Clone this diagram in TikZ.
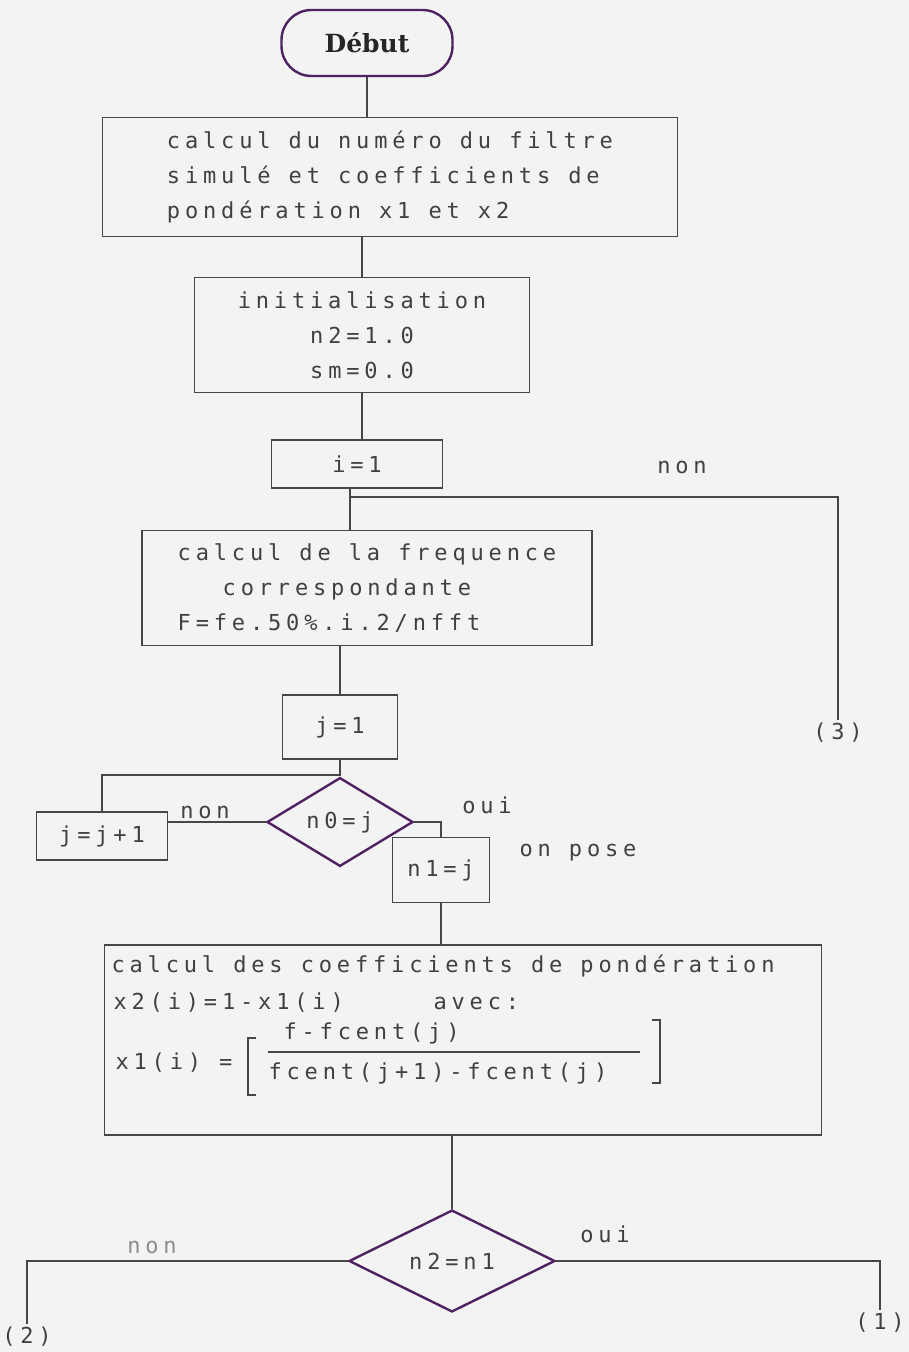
\documentclass[tikz,border=0pt]{standalone}
\usepackage{fontspec}
\usetikzlibrary{shapes.geometric}

\newfontfamily\dotfont{DejaVu Sans Mono}[LetterSpace=22]
\newfontfamily\titlefont{DejaVu Serif}

\definecolor{inkpurple}{RGB}{78,34,96}
\definecolor{paper}{RGB}{243,243,243}
\definecolor{penline}{RGB}{70,70,70}

\tikzset{
  every node/.style={font={\dotfont\fontsize{22}{35}\selectfont}, text=black!75},
  box/.style={draw=penline, line width=1.1pt, rectangle, inner sep=0pt},
  decision/.style={draw=inkpurple, line width=2.4pt, diamond, inner sep=0pt},
  connector/.style={draw=penline, line width=1.1pt},
}

\begin{document}
\begin{tikzpicture}[x=1pt,y=1pt,yscale=-1,xscale=1]
\useasboundingbox (0,0) rectangle (909,1352);
\fill [paper] (0,0) rectangle (909,1352);

%Shape: Terminal [debut]
\node [draw=inkpurple, line width=2.4pt, rounded corners=30pt, minimum width=171pt, minimum height=66pt,
  font={\titlefont\bfseries\fontsize{25}{30}\selectfont}, text=black!85] (debut) at (367,43) {Début};
%Shape: Rectangle [calc]
\node [box, minimum width=575pt, minimum height=119pt, align=left] (calc) at (390,177)
  {calcul du numéro du filtre\\simulé et coefficients de\\pondération x1 et x2};
%Shape: Rectangle [init]
\node [box, minimum width=335pt, minimum height=115pt, align=center] (init) at (362,335)
  {initialisation\\n2=1.0\\sm=0.0};
%Shape: Rectangle [iinit]
\node [box, minimum width=171pt, minimum height=48pt] (iinit) at (357,464) {i=1};
%Shape: Rectangle [freq]
\node [box, minimum width=450pt, minimum height=115pt, align=left] (freq) at (367,588)
  {calcul de la frequence\\\hspace*{45pt}correspondante\\F=fe.50\%.i.2/nfft};
%Shape: Rectangle [jinit]
\node [box, minimum width=115pt, minimum height=64pt] (jinit) at (340,727) {j=1};
%Shape: Diamond [nzero]
\node [decision, minimum width=146pt, minimum height=50pt] (nzero) at (340,822) {n0=j};
%Shape: Rectangle [jinc]
\node [box, minimum width=131pt, minimum height=48pt] (jinc) at (102,836) {j=j+1};
%Shape: Rectangle [nset]
\node [box, minimum width=97pt, minimum height=65pt] (nset) at (441,870) {n1=j};
%Shape: Rectangle [coef]
\node [box, minimum width=717pt, minimum height=190pt] (coef) at (463,1040) {};
%Shape: Diamond [ntwo]
\node [decision, minimum width=206pt, minimum height=75pt] (ntwo) at (452,1261) {n2=n1};

% Text Node
\node [anchor=west] (coefa) at (108,966) {calcul des coefficients de pondération};
\node [anchor=west] (coefb) at (110,1003) {x2(i)=1-x1(i)};
\node [anchor=west] (avec) at (430,1003) {avec:};
\node [anchor=west] (xone) at (112,1063) {x1(i) =};
\node [anchor=west] (numer) at (280,1033) {f-fcent(j)};
\node [anchor=west] (denom) at (265,1073) {fcent(j+1)-fcent(j)};
%Straight Lines [fraction and brackets]
\draw [connector] (268,1052) -- (640,1052);
\draw [connector] (256,1038) -- (248,1038) -- (248,1095) -- (256,1095);
\draw [connector] (652,1020) -- (660,1020) -- (660,1083) -- (652,1083);

% Text Node
\node (lbl3) at (838,733) {(3)};
\node (lbl1) at (880,1323) {(1)};
\node (lbl2) at (27,1337) {(2)};
\node (nonA) at (682,467) {non};
\node (nonB) at (205,812) {non};
\node (ouiA) at (487,805) {oui};
\node (pose) at (578,853) {on pose};
\node [text=black!45] (nonC) at (152,1247) {non};
\node (ouiB) at (605,1234) {oui};

%Straight Lines [junctions]
\coordinate (jun3) at (350,497);
\coordinate (jun7) at (340,775);

%Straight Lines
\draw [connector] (debut.south) -- (debut.south |- calc.north);
\draw [connector] (init.north |- calc.south) -- (init.north);
\draw [connector] (init.south) -- (init.south |- iinit.north);
\draw [connector] (jun3 |- iinit.south) -- (jun3 |- freq.north);
\draw [connector] (jun3) -| (lbl3.north);
\draw [connector] (jinit.north |- freq.south) -- (jinit.north);
\draw [connector] (jinit.south) -- (nzero.north);
\draw [connector] (jun7) -| (jinc.north);
\draw [connector] (jinc.east |- nzero.west) -- (nzero.west);
\draw [connector] (nzero.east) -| (nset.north);
\draw [connector] (nset.south) -- (nset.south |- coef.north);
\draw [connector] (ntwo.north |- coef.south) -- (ntwo.north);
\draw [connector] (ntwo.east) -| (lbl1.north);
\draw [connector] (ntwo.west) -| (lbl2.north);

\end{tikzpicture}
\end{document}
